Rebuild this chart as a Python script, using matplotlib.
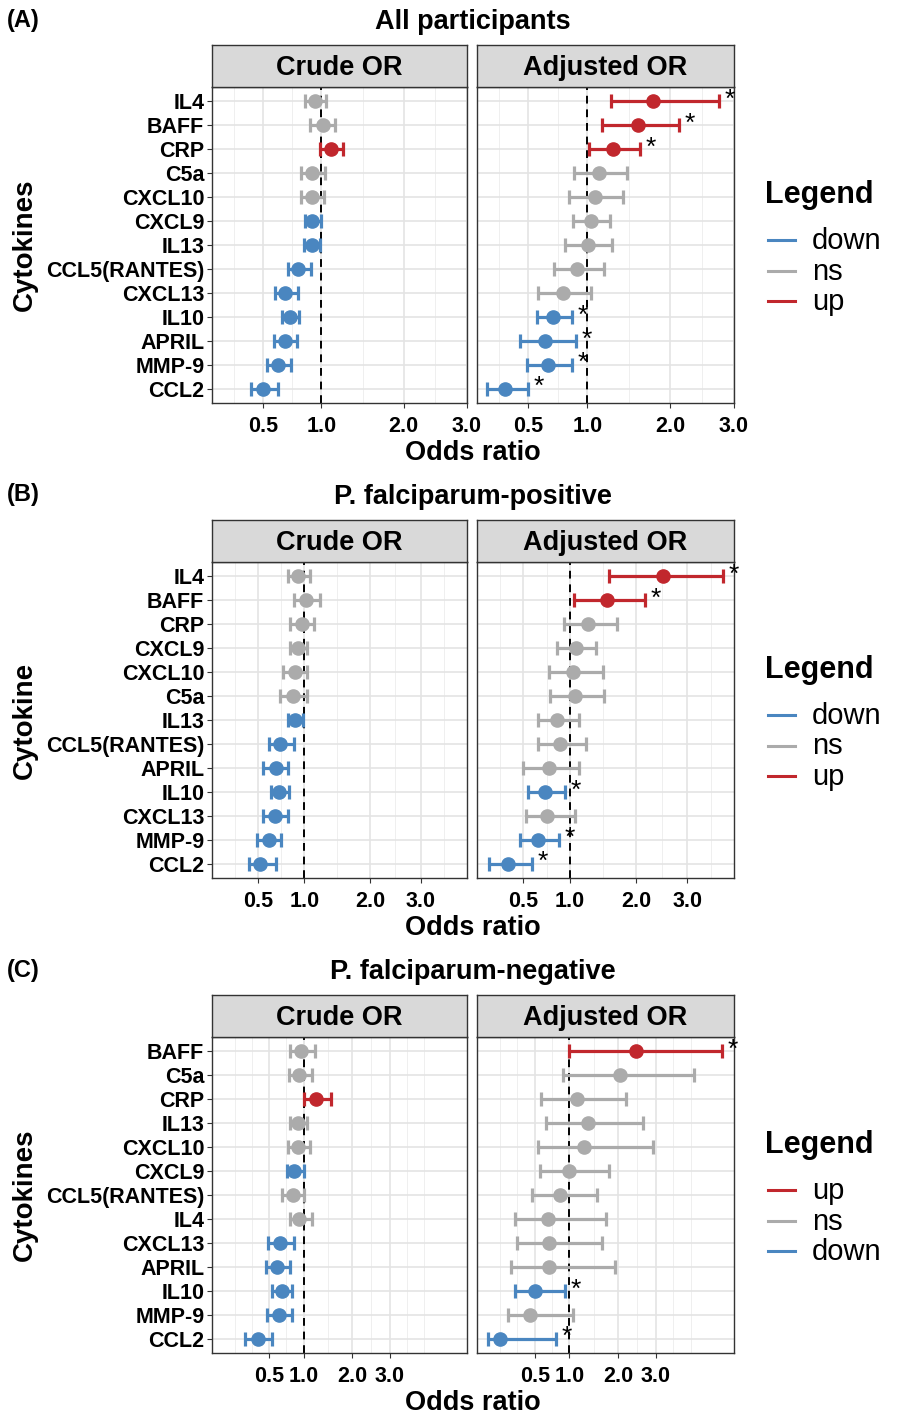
import numpy as np
import matplotlib.pyplot as plt
from matplotlib.lines import Line2D
from matplotlib.ticker import FixedLocator

plt.rcParams['font.family'] = ['Liberation Sans', 'DejaVu Sans']

colors = {'down': '#4A86C0', 'ns': '#ABABAB', 'up': '#C1272D'}
x_ticks = [0.5, 1.0, 2.0, 3.0]

# (A) All participants
a_names = ['IL4', 'BAFF', 'CRP', 'C5a', 'CXCL10', 'CXCL9', 'IL13', 'CCL5(RANTES)',
           'CXCL13', 'IL10', 'APRIL', 'MMP-9', 'CCL2']
a_crude_or = [0.94, 1.02, 1.10, 0.91, 0.91, 0.91, 0.91, 0.78, 0.67, 0.71, 0.67, 0.61, 0.50]
a_crude_lo = [0.84, 0.89, 0.99, 0.81, 0.81, 0.84, 0.83, 0.69, 0.59, 0.64, 0.58, 0.53, 0.42]
a_crude_hi = [1.05, 1.14, 1.23, 1.04, 1.03, 1.00, 0.99, 0.90, 0.78, 0.79, 0.77, 0.72, 0.61]
a_crude_sig = ['ns', 'ns', 'up', 'ns', 'ns', 'down', 'down', 'down', 'down', 'down', 'down', 'down', 'down']
a_adj_or = [1.76, 1.57, 1.27, 1.12, 1.08, 1.04, 1.01, 0.90, 0.77, 0.69, 0.62, 0.65, 0.35]
a_adj_lo = [1.25, 1.15, 1.02, 0.87, 0.83, 0.86, 0.79, 0.70, 0.57, 0.56, 0.44, 0.49, 0.25]
a_adj_hi = [2.74, 2.13, 1.59, 1.44, 1.39, 1.24, 1.26, 1.17, 1.04, 0.85, 0.89, 0.85, 0.50]
a_adj_sig = ['up', 'up', 'up', 'ns', 'ns', 'ns', 'ns', 'ns', 'ns', 'down', 'down', 'down', 'down']

# (B) P. falciparum-positive
b_names = ['IL4', 'BAFF', 'CRP', 'CXCL9', 'CXCL10', 'C5a', 'IL13', 'CCL5(RANTES)',
           'APRIL', 'IL10', 'CXCL13', 'MMP-9', 'CCL2']
b_crude_or = [0.92, 1.02, 0.97, 0.92, 0.88, 0.86, 0.89, 0.72, 0.67, 0.70, 0.66, 0.60, 0.52]
b_crude_lo = [0.80, 0.87, 0.83, 0.83, 0.75, 0.72, 0.80, 0.60, 0.55, 0.62, 0.55, 0.49, 0.42]
b_crude_hi = [1.07, 1.20, 1.13, 1.03, 1.03, 1.03, 0.98, 0.87, 0.80, 0.82, 0.80, 0.73, 0.67]
b_crude_sig = ['ns', 'ns', 'ns', 'ns', 'ns', 'ns', 'down', 'down', 'down', 'down', 'down', 'down', 'down']
b_adj_or = [2.49, 1.51, 1.24, 1.08, 1.04, 1.06, 0.84, 0.88, 0.75, 0.71, 0.73, 0.64, 0.37]
b_adj_lo = [1.55, 1.05, 0.93, 0.84, 0.75, 0.76, 0.64, 0.64, 0.50, 0.54, 0.52, 0.47, 0.24]
b_adj_hi = [3.82, 2.16, 1.67, 1.35, 1.45, 1.47, 1.12, 1.21, 1.11, 0.94, 1.06, 0.87, 0.58]
b_adj_sig = ['up', 'up', 'ns', 'ns', 'ns', 'ns', 'ns', 'ns', 'ns', 'down', 'ns', 'down', 'down']

# (C) P. falciparum-negative
c_names = ['BAFF', 'C5a', 'CRP', 'IL13', 'CXCL10', 'CXCL9', 'CCL5(RANTES)', 'IL4',
           'CXCL13', 'APRIL', 'IL10', 'MMP-9', 'CCL2']
c_crude_or = [0.96, 0.93, 1.23, 0.90, 0.90, 0.85, 0.83, 0.93, 0.64, 0.60, 0.66, 0.62, 0.37]
c_crude_lo = [0.78, 0.76, 1.01, 0.78, 0.75, 0.73, 0.66, 0.78, 0.49, 0.46, 0.53, 0.47, 0.25]
c_crude_hi = [1.21, 1.15, 1.51, 1.06, 1.11, 1.01, 1.01, 1.15, 0.84, 0.78, 0.81, 0.81, 0.53]
c_crude_sig = ['ns', 'ns', 'up', 'ns', 'ns', 'down', 'ns', 'ns', 'down', 'down', 'down', 'down', 'down']
c_adj_or = [2.44, 2.04, 1.13, 1.34, 1.27, 1.00, 0.84, 0.67, 0.68, 0.68, 0.50, 0.45, 0.17]
c_adj_lo = [0.99, 0.90, 0.58, 0.65, 0.54, 0.56, 0.47, 0.29, 0.31, 0.26, 0.29, 0.23, 0.10]
c_adj_hi = [5.24, 4.23, 2.19, 2.62, 2.90, 1.79, 1.52, 1.72, 1.63, 1.92, 0.93, 1.07, 0.78]
c_adj_sig = ['up', 'ns', 'ns', 'ns', 'ns', 'ns', 'ns', 'ns', 'ns', 'ns', 'down', 'ns', 'down']

W, H = 901, 1414
fig = plt.figure(figsize=(W / 100, H / 100), dpi=100)


def box(x0, x1, ytop, ybot):
    return [x0 / W, 1 - ybot / H, (x1 - x0) / W, (ybot - ytop) / H]


def fx(x):
    return x / W


def fy(y):
    return 1 - y / H


def fwd(x):
    return np.sqrt(np.clip(x, 0, None))


def inv(u):
    return np.square(u)


def minor_breaks():
    # ggplot style: midpoints between majors in sqrt space, extended one step each side
    u = list(fwd(np.array(x_ticks)))
    bd = u[1] - u[0]
    u = [u[0] - bd] + u + [u[-1] + bd]
    out = []
    for i in range(len(u) - 1):
        out += [u[i], (u[i] + u[i + 1]) / 2]
    out.append(u[-1])
    return [inv(v) for v in out]


def facet(rect, names, vals, lo, hi, sig, xlim, strip_text, first, stars):
    ax = fig.add_axes(rect)
    n = len(names)
    ys = np.arange(n)[::-1]
    ax.set_xscale('function', functions=(fwd, inv))
    ax.set_xlim(xlim)
    ax.set_ylim(-0.6, n - 0.4)
    ax.xaxis.set_major_locator(FixedLocator(x_ticks))
    ax.xaxis.set_minor_locator(FixedLocator(minor_breaks()))
    ax.set_xticklabels(['%.1f' % t for t in x_ticks], fontsize=15.5, fontweight='bold')
    ax.set_yticks(ys)
    ax.grid(which='major', color='#E4E4E4', lw=1.2)
    ax.grid(which='minor', axis='x', color='#EFEFEF', lw=0.7)
    ax.set_axisbelow(True)
    ax.tick_params(which='minor', length=0)
    ax.tick_params(axis='x', length=3.5, color='#333333', pad=6)
    if first:
        ax.set_yticklabels(names, fontsize=15.5, fontweight='bold')
        ax.tick_params(axis='y', length=3.5, color='#333333', pad=2)
    else:
        ax.set_yticklabels([])
        ax.tick_params(axis='y', length=0)
    for s in ax.spines.values():
        s.set_color('#333333')
        s.set_linewidth(1.0)
    ax.axvline(1.0, color='black', ls=(0, (4, 3)), lw=1.4, zorder=2)
    for y, v, l, h, s in zip(ys, vals, lo, hi, sig):
        ax.errorbar(v, y, xerr=[[v - l], [h - v]], fmt='o', color=colors[s], ms=9.5,
                    elinewidth=2.3, capsize=5, capthick=2.3, zorder=3)
        if stars and s != 'ns':
            ax.annotate('*', (h, y), xytext=(4, 1), textcoords='offset points',
                        ha='left', va='center', fontsize=19, color='black')
    # strip on top
    sx = fig.add_axes([rect[0], rect[1] + rect[3], rect[2], 42 / H])
    sx.set_facecolor('#D9D9D9')
    sx.set_xticks([])
    sx.set_yticks([])
    for s in sx.spines.values():
        s.set_color('#333333')
        s.set_linewidth(1.0)
    sx.text(0.5, 0.45, strip_text, ha='center', va='center', fontsize=19.5,
            fontweight='bold', transform=sx.transAxes)
    return ax


def panel(top, letter, title, ylabel, names, crude, adj, xlim, order):
    ptop = top + 42
    pbot = ptop + 316
    facet(box(212, 467, ptop, pbot), names, *crude, xlim, 'Crude OR', True, False)
    facet(box(477, 734, ptop, pbot), names, *adj, xlim, 'Adjusted OR', False, True)
    fig.text(fx(7), fy(top - 25), letter, fontsize=17, fontweight='bold',
             ha='left', va='center')
    fig.text(fx(473), fy(top - 23), title, fontsize=19.5, fontweight='bold',
             ha='center', va='center')
    fig.text(fx(473), fy(pbot + 50), 'Odds ratio', fontsize=19.5, fontweight='bold',
             ha='center', va='center')
    fig.text(fx(25), fy((ptop + pbot) / 2), ylabel, fontsize=20, fontweight='bold',
             ha='center', va='center', rotation=90)
    # legend drawn as guide: title then one line key per level
    fig.text(fx(765), fy(top + 150), 'Legend', fontsize=22, fontweight='bold',
             ha='left', va='center')
    for i, k in enumerate(order):
        y = top + 195 + i * 30.5
        fig.add_artist(Line2D([fx(768), fx(795)], [fy(y), fy(y)], color=colors[k], lw=2.2))
        fig.text(fx(812), fy(y + 1), k, fontsize=21, ha='left', va='center')


panel(45, '(A)', 'All participants', 'Cytokines', a_names,
      (a_crude_or, a_crude_lo, a_crude_hi, a_crude_sig),
      (a_adj_or, a_adj_lo, a_adj_hi, a_adj_sig), (0.203, 3.0), ['down', 'ns', 'up'])
panel(520, '(B)', 'P. falciparum-positive', 'Cytokine', b_names,
      (b_crude_or, b_crude_lo, b_crude_hi, b_crude_sig),
      (b_adj_or, b_adj_lo, b_adj_hi, b_adj_sig), (0.174, 4.1), ['down', 'ns', 'up'])
panel(995, '(C)', 'P. falciparum-negative', 'Cytokines', c_names,
      (c_crude_or, c_crude_lo, c_crude_hi, c_crude_sig),
      (c_adj_or, c_adj_lo, c_adj_hi, c_adj_sig), (0.048, 5.72), ['up', 'ns', 'down'])

fig.savefig('out.png', dpi=100)
